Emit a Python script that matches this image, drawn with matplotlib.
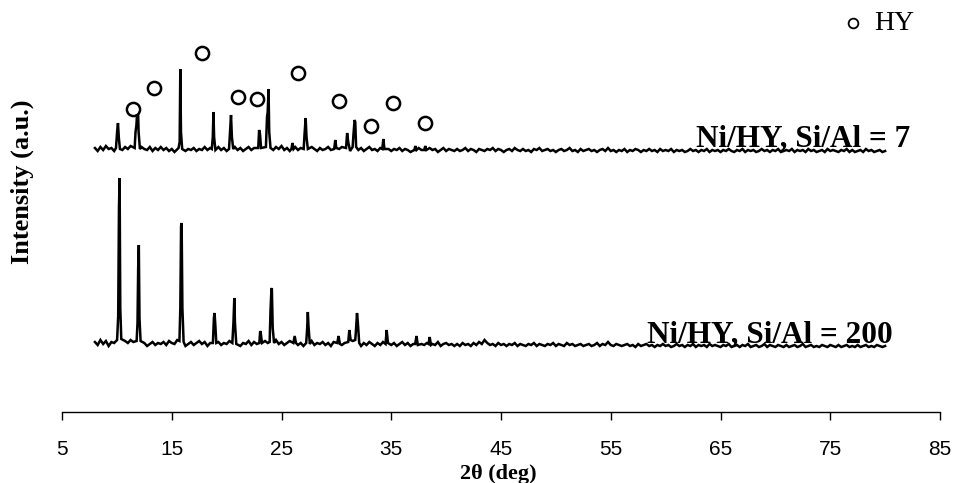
import numpy as np
import matplotlib
matplotlib.use("Agg")
import matplotlib.pyplot as plt

# ---------------- data ----------------
grid_start, grid_step = 8.0, 0.25   # sampling of the digitised baseline (2-theta, deg)

# Ni/HY, Si/Al = 200 (lower pattern) - baseline intensity readings (a.u.)
base_200 = [
    6,3,8,4,7,2,6,5,8,4,6,7,
    5,8,6,4,7,3,5,2,4,6,3,5,
    4,6,3,7,5,4,8,6,5,2,4,6,
    3,5,7,4,6,2,5,7,4,6,3,5,
    4,7,5,3,6,2,5,4,7,3,6,4,
    6,3,7,5,4,6,8,4,6,3,5,7,
    4,6,3,5,2,6,4,7,3,5,4,6,
    3,5,2,6,4,7,3,5,6,4,7,5,
    4,2,5,3,6,4,2,5,3,6,4,5,
    3,5,2,4,6,3,5,2,4,3,6,4,
    3,5,2,4,3,6,2,4,5,3,4,2,
    4,2,5,3,4,2,5,3,6,4,8,5,
    3,4,2,5,3,4,2,4,3,5,2,4,
    3,2,4,3,5,2,4,3,2,4,3,5,
    2,4,3,2,5,3,4,2,3,4,2,3,
    4,2,3,5,2,4,3,6,3,2,4,3,
    2,3,4,2,3,1,4,2,3,4,2,3,
    1,3,2,4,2,3,1,2,4,2,3,1,
    3,2,4,1,3,2,3,1,4,2,3,2,
    1,3,2,4,1,2,3,1,3,2,4,1,
    2,3,1,2,4,1,3,2,1,3,2,1,
    3,1,2,3,1,2,4,1,2,3,1,2,
    1,3,2,1,3,2,1,3,1,2,3,1,
    2,1,3,1,2,3,1,2,1,3,2,1,
    2,
]
# peak profile points for Si/Al = 200 (2-theta, intensity)
peak_200_x = [10.02, 10.12, 10.19, 10.25, 10.31, 10.40,
              11.80, 11.88, 11.94, 12.00, 12.06, 12.16,
              15.70, 15.78, 15.85, 15.90, 15.97, 16.08,
              18.75, 18.84, 18.90, 18.96, 19.06,
              20.52, 20.62, 20.70, 20.76, 20.88,
              22.98, 23.06, 23.12, 23.22,
              23.92, 24.00, 24.08, 24.12, 24.20, 24.32,
              26.08, 26.20, 26.32,
              27.25, 27.34, 27.40, 27.46, 27.58,
              30.08, 30.20, 30.32,
              31.08, 31.18, 31.30,
              31.72, 31.80, 31.88, 31.96, 32.08,
              34.48, 34.58, 34.70,
              37.18, 37.30, 37.42,
              38.40, 38.50, 38.62]
peak_200_y = [8, 32, 140, 170, 40, 9,
              7, 25, 80, 103, 30, 7,
              7, 40, 122, 125, 40, 6,
              5, 30, 35, 25, 5,
              5, 25, 50, 25, 4,
              5, 17, 14, 5,
              6, 38, 58, 60, 20, 5,
              5, 12, 5,
              5, 20, 36, 22, 4,
              5, 12, 4,
              6, 18, 8,
              8, 20, 35, 25, 5,
              4, 18, 5,
              4, 12, 3,
              4, 11, 3]

# Ni/HY, Si/Al = 7 (upper pattern) - baseline intensity readings (a.u.)
base_7 = [
    4,1,5,2,6,3,4,1,5,3,2,5,
    3,6,2,4,1,5,3,2,5,1,4,2,
    5,2,4,1,3,0,3,2,4,1,3,2,
    4,1,3,2,5,2,4,1,3,5,2,4,
    1,3,2,5,2,4,1,3,5,2,4,3,
    2,5,3,1,4,2,5,3,6,2,4,1,
    3,5,2,4,1,3,2,5,3,1,4,2,
    3,5,2,4,6,3,5,2,4,1,3,5,
    2,4,1,3,5,2,3,1,4,2,5,3,
    1,3,2,4,1,3,2,0,3,1,4,2,
    3,1,4,2,3,0,2,4,1,3,2,1,
    3,1,2,4,1,3,2,0,3,2,1,3,
    2,4,1,3,2,0,2,3,1,4,2,1,
    3,1,2,0,3,2,4,1,2,3,1,2,
    0,2,3,1,2,4,1,2,0,3,1,2,
    3,1,2,0,2,3,1,4,1,2,0,2,
    1,3,0,2,1,3,2,0,2,1,3,1,
    2,0,3,1,2,1,3,0,2,1,2,0,
    1,3,1,2,0,2,1,3,0,2,1,2,
    0,2,1,3,1,0,2,1,3,0,2,1,
    2,0,1,3,1,2,0,2,1,3,0,1,
    2,1,3,0,2,1,2,0,3,1,2,0,
    1,2,0,3,1,2,1,0,2,1,3,0,
    2,0,1,2,0,3,1,2,0,1,2,0,
    1,
]
peak_7_x = [9.92, 10.02, 10.10, 10.18, 10.28,
            11.62, 11.70, 11.78, 11.86, 11.92, 11.98, 12.10,
            15.62, 15.72, 15.78, 15.84, 15.95,
            18.65, 18.74, 18.80, 18.86, 18.98,
            20.22, 20.32, 20.40, 20.48, 20.60,
            22.88, 22.96, 23.04, 23.14,
            23.58, 23.68, 23.74, 23.82, 23.88, 24.00,
            25.90, 26.00, 26.10,
            27.02, 27.10, 27.20, 27.28, 27.40,
            29.80, 29.90, 30.00,
            30.88, 30.98, 31.08,
            31.48, 31.56, 31.66, 31.72, 31.80,
            34.18, 34.28, 34.38,
            37.10, 37.20, 37.30,
            38.00, 38.10, 38.20]
peak_7_y = [4, 20, 29, 14, 3,
            4, 20, 27, 42, 45, 20, 3,
            4, 10, 83, 20, 3,
            3, 15, 40, 15, 2,
            3, 22, 37, 15, 3,
            4, 22, 18, 4,
            5, 35, 40, 63, 20, 4,
            3, 9, 3,
            3, 18, 34, 15, 3,
            3, 12, 4,
            4, 19, 10,
            5, 18, 32, 30, 5,
            3, 13, 3,
            2, 6, 2,
            2, 6, 2]

# HY reflections marked with open circles (2-theta, plot height)
hy_mark_x = [11.47, 13.38, 17.76, 21.04, 22.77, 26.50, 30.24, 33.15, 35.16, 38.08]
hy_mark_y = [303, 324, 359, 315, 313, 339, 311, 286, 309, 289]

offset_200 = 64
offset_7 = 260

x_ticks = [5, 15, 25, 35, 45, 55, 65, 75, 85]
label_200 = "Ni/HY, Si/Al = 200"
label_7 = "Ni/HY, Si/Al = 7"

# ---------------- build traces ----------------
def build(base, px, py):
    gx = grid_start + grid_step * np.arange(len(base))
    gy = np.asarray(base, dtype=float)
    px = np.asarray(px); py = np.asarray(py, dtype=float)
    keep = np.array([np.min(np.abs(px - g)) > 0.13 for g in gx])
    x = np.concatenate([gx[keep], px])
    y = np.concatenate([gy[keep], py])
    o = np.argsort(x)
    return x[o], y[o]

x200, y200 = build(base_200, peak_200_x, peak_200_y)
x7, y7 = build(base_7, peak_7_x, peak_7_y)

# ---------------- figure ----------------
W, H = 955, 483
fig = plt.figure(figsize=(W / 100, H / 100), dpi=100)
ax = fig.add_axes([62 / W, (H - 412) / H, 878 / W, 412 / H])
ax.set_xlim(5, 85)
ax.set_ylim(0, 412)

ax.plot(x200, y200 + offset_200, color="black", lw=1.8, solid_joinstyle="miter")
ax.plot(x7, y7 + offset_7, color="black", lw=1.8, solid_joinstyle="miter")
ax.plot(hy_mark_x, hy_mark_y, linestyle="none", marker="o", ms=9.5,
        mfc="white", mec="black", mew=1.8)

serif = ["Liberation Serif", "DejaVu Serif"]
ax.text(82.27, 266, label_7, ha="right", va="baseline", family=serif,
        fontweight="bold", fontsize=22.5)
ax.text(80.72, 70, label_200, ha="right", va="baseline", family=serif,
        fontweight="bold", fontsize=22.5)

# legend-like key
ax.plot([77.1], [389], linestyle="none", marker="o", ms=7, mfc="white",
        mec="black", mew=1.3, clip_on=False)
ax.text(79.0, 389, "HY", ha="left", va="center", family=serif, fontsize=20)

for s in ("left", "right", "top"):
    ax.spines[s].set_visible(False)
ax.spines["bottom"].set_linewidth(1.0)
ax.set_yticks([])
ax.set_xticks(x_ticks)
ax.tick_params(axis="x", direction="out", length=6, width=1, pad=14)
for lab in ax.get_xticklabels():
    lab.set_family(["Liberation Sans", "DejaVu Sans"])
    lab.set_fontsize(15)

fig.text(498 / W, 1 - 479 / H, "2θ (deg)", ha="center", va="baseline",
         family=serif, fontweight="bold", fontsize=16)
fig.text(22 / W, 1 - 182 / H, "Intensity (a.u.)", ha="center", va="center",
         rotation=90, family=serif, fontweight="bold", fontsize=19)

fig.savefig("out.png", dpi=100)
